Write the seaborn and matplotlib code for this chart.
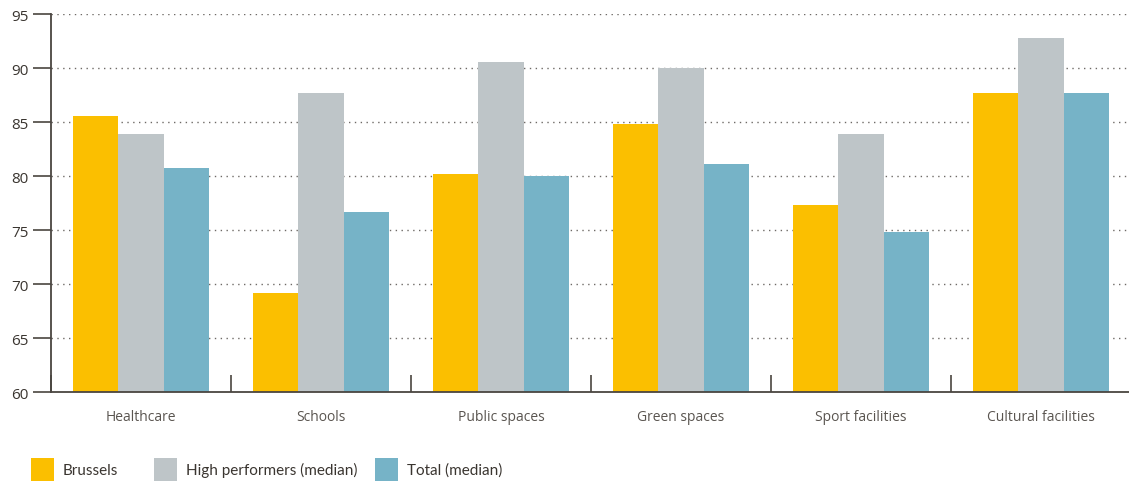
import matplotlib
matplotlib.use("Agg")
import matplotlib.pyplot as plt
import seaborn as sns
import pandas as pd
from matplotlib.patches import Patch
from matplotlib.ticker import FixedLocator
from matplotlib.font_manager import FontProperties
from matplotlib.textpath import TextPath

categories = ["Healthcare", "Schools", "Public spaces", "Green spaces",
              "Sport facilities", "Cultural facilities"]
series_names = ["Brussels", "High performers (median)", "Total (median)"]
brussels = [85.6, 69.2, 80.2, 84.8, 77.3, 87.7]
high_performers = [83.9, 87.7, 90.6, 90.0, 83.9, 92.8]
total_median = [80.7, 76.7, 80.0, 81.1, 74.8, 87.7]
colors = ["#FBBF00", "#BEC5C8", "#76B3C7"]
y_ticks = [60, 65, 70, 75, 80, 85, 90, 95]

df = pd.DataFrame({
    "category": categories * 3,
    "series": [series_names[0]] * 6 + [series_names[1]] * 6 + [series_names[2]] * 6,
    "value": brussels + high_performers + total_median,
})

sns.set_theme(style="white")
plt.rcParams["font.family"] = ["Open Sans", "DejaVu Sans"]

legend_family = "Lato"
# largest legend size (up to 13.5 pt) whose longest label fits before the next key
size = 13.5
while size > 8:
    tp = TextPath((0, 0), series_names[1],
                  prop=FontProperties(family=legend_family, size=size))
    if tp.get_extents().width * 100 / 72 <= 172:
        break
    size -= 0.25

W, H = 1129, 485
fig = plt.figure(figsize=(W / 100, H / 100), dpi=100)
ax = fig.add_axes([51 / W, 92 / H, 1080 / W, 378 / H])

sns.barplot(data=df, x="category", y="value", hue="series", order=categories,
            hue_order=series_names, palette=colors, width=0.755, saturation=1,
            linewidth=0, edgecolor="none", ax=ax, legend=False, zorder=3)

axis_color = "#4a4540"
ax.set_ylim(60, 95)
ax.set_xlim(-0.5, 5.5)
ax.set_yticks(y_ticks)
ax.set_xlabel("")
ax.set_ylabel("")

# dotted horizontal gridlines
for v in y_ticks[1:]:
    ax.axhline(v, color="#6e6a66", linestyle=(0, (1, 3.2)), linewidth=1.0, zorder=1)

for s in ["top", "right"]:
    ax.spines[s].set_visible(False)
for s in ["left", "bottom"]:
    ax.spines[s].set_color(axis_color)
    ax.spines[s].set_linewidth(1.3)
    ax.spines[s].set_zorder(4)

ax.tick_params(axis="y", left=True, direction="out", length=13, width=1.2,
               color=axis_color, labelsize=11, labelcolor="#3a3530", pad=3)
ax.tick_params(axis="x", which="major", bottom=True, length=0, labelsize=10,
               labelcolor="#5a5550", pad=12)
ax.xaxis.set_minor_locator(FixedLocator([-0.5, 0.5, 1.5, 2.5, 3.5, 4.5]))
ax.tick_params(axis="x", which="minor", bottom=True, direction="in", length=12,
               width=1.2, color=axis_color)

# legend entries laid out along the bottom, with square 23 px keys
key_pt = 23 * 72 / 100
key_len = key_pt / size
key_h = (key_pt / size - 0.245) / 0.65
legend_x = [25 / W, 148 / W, 369 / W]
for name, col, lx in zip(series_names, colors, legend_x):
    fig.legend(handles=[Patch(facecolor=col, edgecolor="none")], labels=[name],
               loc="center left", bbox_to_anchor=(lx, 15 / H), frameon=False,
               prop=FontProperties(family=[legend_family, "DejaVu Sans"], size=size),
               handlelength=key_len, handleheight=key_h,
               handletextpad=9 * 72 / 100 / size, borderaxespad=0,
               labelcolor="#3a3530")

fig.savefig("out.png", dpi=100, facecolor="white")
